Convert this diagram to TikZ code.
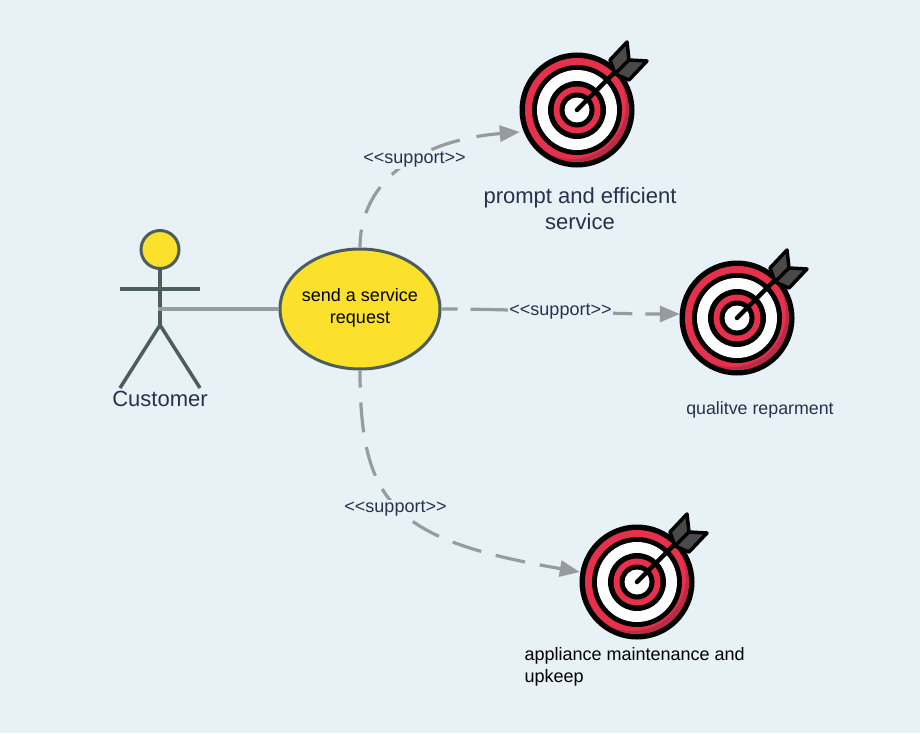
\documentclass[tikz,border=0pt]{standalone}
\usepackage{fontspec}
\setmainfont{Liberation Sans}
\usetikzlibrary{arrows.meta,shapes.geometric}
\definecolor{bgc}{HTML}{E8F1F6}
\definecolor{yel}{HTML}{FCE12C}
\definecolor{slatec}{HTML}{4C5D5F}
\definecolor{linec}{HTML}{979B9E}
\definecolor{inkc}{HTML}{26324D}
\definecolor{redc}{HTML}{E8304A}
\definecolor{dredc}{HTML}{B92B48}
\definecolor{featherc}{HTML}{4A4A4A}
\tikzset{
  x=1pt,y=-1pt,
  actorline/.style={draw=slatec,line width=3.5pt},
  usecase/.style={ellipse,draw=slatec,fill=yel,line width=3pt,minimum width=160pt,minimum height=120pt,inner sep=0pt,align=center,font=\fontsize{18}{22}\selectfont,text=black},
  assoc/.style={draw=linec,line width=3.2pt},
  dep/.style={draw=linec,line width=3.2pt,-{Triangle[length=20pt,width=16pt,fill=linec]}},
  deplabel/.style={fill=bgc,inner sep=1pt,font=\fontsize{18}{20}\selectfont,text=inkc},
  tgt/.style={circle,draw=none,minimum size=114pt,inner sep=0pt},
}
\newcommand{\bullseye}[3]{%
  \node[tgt] (#1) at (#2,#3) {};
  \begin{scope}[shift={(#2,#3)}]
    \fill[black] (0,0) circle (57.5);
    \fill[redc] (0,0) circle (52);
    \begin{scope}
      \clip (0,0) circle (52);
      \fill[dredc,even odd rule] (0,0) circle (52) (-5,-5) circle (54);
    \end{scope}
    \fill[black] (0,0) circle (45);
    \fill[white] (0,0) circle (40);
    \fill[black] (0,0) circle (29);
    \fill[redc] (0,0) circle (23.5);
    \fill[black] (0,0) circle (17.5);
    \fill[white] (0,0) circle (12.5);
    \draw[black,line width=4.5pt,line cap=round] (0,0) -- (40,-40);
    \draw[black,line width=3.5pt,line join=round,fill=featherc] (33,-50) -- (50,-68) -- (52,-50) -- (38,-36) -- cycle;
    \draw[black,line width=3.5pt,line join=round,fill=featherc] (38,-36) -- (52,-50) -- (70,-49) -- (52,-30) -- cycle;
  \end{scope}%
}
\begin{document}
\begin{tikzpicture}
\useasboundingbox[fill=bgc] (0,0) rectangle (920,733);

% actor
\node[circle,draw=slatec,fill=yel,line width=3pt,minimum size=38pt,inner sep=0pt] (head) at (160,249.5) {};
\coordinate (hip) at (160,325);
\coordinate (armL) at (120,289);
\coordinate (armR) at (200,289);
\coordinate (legL) at (120,388);
\coordinate (legR) at (200,388);
\coordinate (waist) at (158,309);
\draw[actorline] (head.south) -- (hip);
\draw[actorline] (armL) -- (armR);
\draw[actorline] (legL) -- (hip) -- (legR);
\node[font=\fontsize{22}{24}\selectfont,text=inkc] (customer) at (160,399) {Customer};

% use case
\node[usecase] (req) at (360,309) {};
\node[font=\fontsize{18}{22}\selectfont,align=center,text=black] (reqtext) at (360,308) {send a service\\request};
\draw[assoc] (waist) -- (req.west);

% targets
\bullseye{t1}{577}{110}
\bullseye{t2}{737}{318}
\bullseye{t3}{637}{582}

% dependencies
\draw[dep,dash pattern=on 30pt off 17pt,dash phase=12pt] (req.north) .. controls (360,180) and (420,140) .. (t1.west |- 0,132);
\draw[dep,dash pattern=on 16pt off 13pt on 40pt off 102pt on 20pt off 13pt on 60pt] (req.east) .. controls (520,309) and (600,314) .. ([yshift=4pt]t2.west);
\draw[dep,dash pattern=on 30pt off 15pt,dash phase=13pt] (req.south) .. controls (360,505) and (395,540) .. (t3.west |- 0,572);

\node[deplabel] (l1) at (414.5,160) {<{}<support>{}>};
\node[deplabel] (l2) at (560.5,312) {<{}<support>{}>};
\node[deplabel] (l3) at (395.5,509) {<{}<support>{}>};

% captions
\node[font=\fontsize{22}{25.5}\selectfont,text=inkc,align=center] (c1) at (580,208.5) {prompt and efficient\\service};
\node[font=\fontsize{17.8}{20}\selectfont,text=inkc] (c2) at (760,409.5) {qualitve reparment};
\node[font=\fontsize{18}{22}\selectfont,text=black,align=left,anchor=west] (c3) at (521,667) {appliance maintenance and\\upkeep};
\end{tikzpicture}
\end{document}
